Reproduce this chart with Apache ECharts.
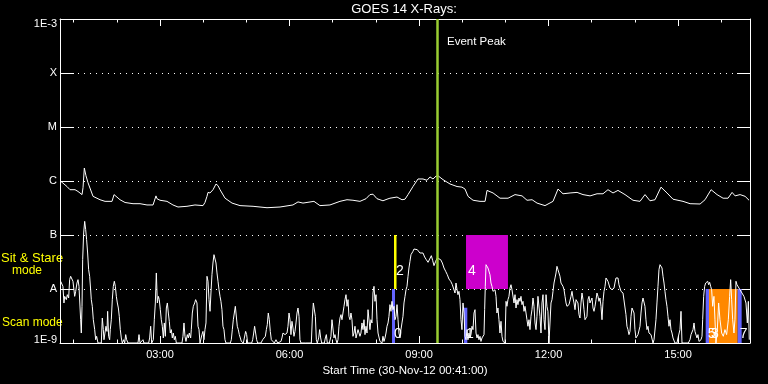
<!DOCTYPE html>
<html><head><meta charset="utf-8">
<script src="https://cdn.jsdelivr.net/npm/echarts@6/dist/echarts.min.js"></script>
<style>html,body{margin:0;padding:0;background:#000}#c{width:768px;height:384px}</style>
</head><body><div id="c"></div>
<script>
// ---------- data ----------
const chartTitle = 'GOES 14 X-Rays:';
const xAxisTitle = 'Start Time (30-Nov-12 00:41:00)';
const timeStart = 41;   // minutes after midnight (00:41)
const timeEnd = 1000;
const majorTickTimes = [180, 360, 540, 720, 900];
const minorTickTimes = [60, 120, 240, 300, 420, 480, 600, 660, 780, 840, 960];
const levelTickLabels = ['1E-9', 'A', 'B', 'C', 'M', 'X', '1E-3'];
const fluxMin = 1e-9, fluxMax = 1e-3;
const peakTime = 565;
const peakLabel = 'Event Peak';
const sitStareText = ['Sit & Stare', 'mode'];
const scanModeText = 'Scan mode';

// long channel [minutes, W/m^2]
const longChannel = [[42.4,0.98e-6],[50.7,0.79e-6],[54.9,0.69e-6],[61.9,0.69e-6],[66,0.64e-6],[71.6,0.56e-6],[73,0.75e-6],[74.8,1.74e-6],[77.1,1.25e-6],[79.9,0.93e-6],
[86.9,0.52e-6],[96.6,0.45e-6],[103.6,0.42e-6],[113.3,0.42e-6],[116.1,0.56e-6],[124.4,0.45e-6],[131.4,0.40e-6],[142.5,0.38e-6],[152.2,0.38e-6],[161.9,0.36e-6],
[170.3,0.36e-6],[173,0.38e-6],[174.4,0.53e-6],[175.8,0.47e-6],[180,0.44e-6],[189.7,0.42e-6],[198,0.36e-6],[205,0.33e-6],[217.5,0.34e-6],[228.6,0.36e-6],
[239.8,0.35e-6],[242.5,0.40e-6],[245.3,0.52e-6],[246.7,0.615e-6],[249.5,0.60e-6],[250.9,0.56e-6],[253.7,0.69e-6],[257.8,0.88e-6],[260.6,0.82e-6],[263.4,0.69e-6],
[270.4,0.48e-6],[280.1,0.39e-6],[291.2,0.35e-6],[309.3,0.34e-6],[328.7,0.32e-6],[346.8,0.33e-6],[364.8,0.36e-6],[371.8,0.41e-6],[378.7,0.39e-6],[394,0.42e-6],
[402.3,0.35e-6],[416.2,0.36e-6],[430.1,0.42e-6],[439.9,0.45e-6],[448.2,0.44e-6],[457.9,0.42e-6],[466.3,0.47e-6],[471.8,0.56e-6],[476,0.57e-6],[481.6,0.47e-6],
[485.7,0.45e-6],[489.9,0.43e-6],[495.5,0.46e-6],[499.6,0.48e-6],[509.4,0.505e-6],[516.3,0.45e-6],[520.5,0.46e-6],[524.7,0.56e-6],[531.6,0.79e-6],[538.6,1.09e-6],
[545.5,1.09e-6],[551.1,1.03e-6],[555.2,1.19e-6],[559.4,1.09e-6],[563.6,1.23e-6],[566.4,1.25e-6],[573.3,1.06e-6],[583.1,0.88e-6],[592.8,0.79e-6],[599.7,0.77e-6],
[603.9,0.71e-6],[608.1,0.52e-6],[615.1,0.44e-6],[624.8,0.42e-6],[631.8,0.42e-6],[634.5,0.67e-6],[642.9,0.60e-6],[652.6,0.48e-6],[663.7,0.48e-6],[673.4,0.56e-6],
[683.2,0.53e-6],[690.1,0.44e-6],[697.1,0.45e-6],[704,0.39e-6],[715.1,0.35e-6],[726.2,0.42e-6],[733.2,0.71e-6],[740.1,0.58e-6],[749.9,0.60e-6],[759.6,0.615e-6],
[767.9,0.56e-6],[777.7,0.53e-6],[787.4,0.58e-6],[795.7,0.58e-6],[802.6,0.69e-6],[809.6,0.60e-6],[816.5,0.67e-6],[826.3,0.56e-6],[837.4,0.44e-6],[847.1,0.42e-6],
[854.1,0.56e-6],[861,0.43e-6],[868,0.45e-6],[876.3,0.77e-6],[884.7,0.60e-6],[893,0.46e-6],[906.9,0.42e-6],[916.7,0.38e-6],[930.6,0.375e-6],[937.5,0.45e-6],
[945.9,0.69e-6],[954.2,0.56e-6],[962.6,0.48e-6],[969.5,0.48e-6],[975.1,0.615e-6],[979.3,0.53e-6],[986.2,0.56e-6],[993.2,0.52e-6],[998.7,0.44e-6]];

// short channel [minutes, W/m^2]
const shortChannel = [[41.9,13.9e-9],[43.8,12.9e-9],[45.1,11.2e-9],[46.5,5.51e-9],[47.5,7.31e-9],[49.8,6.35e-9],[51.2,7.85e-9],[53.0,6.81e-9],[54.4,14.9e-9],[55.8,17.2e-9],
[57.7,16.0e-9],[59.0,13.9e-9],[60.4,9.7e-9],[61.4,7.31e-9],[62.8,9.05e-9],[64.6,12.9e-9],[66.0,14.9e-9],[67.4,11.2e-9],[68.3,12.0e-9],[69.7,2.70e-9],
[70.6,1.53e-9],[71.6,4.78e-9],[72.5,34.9e-9],[73.9,109e-9],[75.3,179e-9],[76.7,126e-9],[78.0,82e-9],[79.4,46.4e-9],[80.8,22.8e-9],[82.2,17.2e-9],
[83.6,9.7e-9],[84.5,6.35e-9],[85.9,4.78e-9],[87.3,2.70e-9],[89.2,1.77e-9],[90.6,1.15e-9],[91.9,1.33e-9],[93.8,1e-9],[98.4,1e-9],[99.8,2.90e-9],
[101.2,1.77e-9],[102.1,1.15e-9],[103.5,1.53e-9],[104.9,2.04e-9],[106.3,1.64e-9],[107.2,3.86e-9],[108.6,1.33e-9],[110.0,1.15e-9],[110.9,1.77e-9],[112.3,2.70e-9],
[113.7,6.35e-9],[115.1,11.2e-9],[116.5,13.9e-9],[117.9,11.2e-9],[119.3,7.31e-9],[120.7,5.51e-9],[122.1,4.45e-9],[123.4,3.12e-9],[124.8,1.77e-9],[126.2,1.24e-9],
[127.6,1e-9],[129.5,1.15e-9],[130.9,1e-9],[132.3,1.43e-9],[133.6,1.15e-9],[135.5,1e-9],[149.4,1e-9],[150.8,1.43e-9],[152.2,1e-9],[156.3,1.15e-9],
[157.7,1e-9],[164.2,1e-9],[165.6,1.24e-9],[167.0,2.04e-9],[168.4,1e-9],[170.7,1.15e-9],[172.1,2.70e-9],[173.5,5.51e-9],[174.9,19.8e-9],[176.3,5.51e-9],
[177.7,7.31e-9],[179.0,6.35e-9],[180.4,4.14e-9],[181.8,2.70e-9],[183.2,2.04e-9],[184.6,1.24e-9],[186.0,2.35e-9],[187.4,1.33e-9],[188.8,4.45e-9],[190.2,5.51e-9],
[191.6,3.59e-9],[192.9,2.52e-9],[194.3,1.53e-9],[195.7,1.77e-9],[197.1,1.24e-9],[198.5,1.53e-9],[199.9,1.15e-9],[201.3,1.33e-9],[202.7,1e-9],[210.5,1e-9],
[211.9,1.33e-9],[213.3,2.35e-9],[214.7,1.33e-9],[216.1,1.07e-9],[218.0,1.43e-9],[219.4,1.24e-9],[220.7,1.53e-9],[222.6,1.24e-9],[223.5,1.77e-9],[224.9,3.59e-9],
[226.3,4.78e-9],[228.2,5.51e-9],[229.5,6.35e-9],[231.4,5.51e-9],[232.8,2.04e-9],[234.2,1.77e-9],[235.6,1e-9],[236.9,1.07e-9],[238.3,1.43e-9],[239.7,1.64e-9],
[241.1,1.15e-9],[242.5,1.77e-9],[243.9,2.35e-9],[245.3,17.2e-9],[246.7,13.9e-9],[248.1,6.35e-9],[249.5,3.86e-9],[250.8,8.43e-9],[252.2,18.4e-9],[253.6,30.3e-9],
[255.0,43.2e-9],[256.4,46.4e-9],[257.8,30.3e-9],[259.2,19.8e-9],[260.6,13.9e-9],[262.0,9.7e-9],[263.4,7.31e-9],[264.7,5.91e-9],[266.1,4.14e-9],[267.5,2.04e-9],
[268.9,1.77e-9],[270.3,1.15e-9],[271.7,1e-9],[277.7,1e-9],[279.1,1.15e-9],[280.5,1.77e-9],[281.9,2.70e-9],[283.3,2.90e-9],[284.7,4.78e-9],[286.1,5.13e-9],
[287.4,2.04e-9],[288.8,1.77e-9],[290.2,1.43e-9],[291.6,1.33e-9],[293.0,1.07e-9],[294.4,1.15e-9],[295.8,1e-9],[297.6,1.07e-9],[299.0,1.64e-9],[300.4,1.43e-9],
[301.8,1e-9],[307.4,1e-9],[308.8,1.15e-9],[310.2,1.53e-9],[311.5,2.04e-9],[312.9,2.19e-9],[314.3,1.15e-9],[315.7,1e-9],[318.0,1.07e-9],[320.3,1e-9],
[322.7,1.15e-9],[325.0,1.24e-9],[326.4,1.33e-9],[327.8,1.77e-9],[329.1,2.19e-9],[330.5,3.59e-9],[331.9,2.70e-9],[333.3,1.64e-9],[334.7,1.15e-9],[336.6,1.07e-9],
[338.9,1e-9],[341.2,1.15e-9],[343.5,1e-9],[348.1,1.07e-9],[349.5,1.24e-9],[350.9,1.53e-9],[352.3,1.64e-9],[353.7,1.43e-9],[355.1,1.33e-9],[356.5,1.53e-9],
[357.9,2.04e-9],[359.3,3.59e-9],[360.7,2.70e-9],[362.0,1.43e-9],[363.4,2.52e-9],[364.8,1.90e-9],[366.2,1.33e-9],[367.6,1.64e-9],[369.0,2.35e-9],[370.4,3.59e-9],
[371.8,4.45e-9],[373.2,3.12e-9],[374.5,1.15e-9],[375.9,1e-9],[382.0,1e-9],[383.8,1.07e-9],[385.7,1e-9],[390.3,1e-9],[391.7,2.90e-9],[393.1,5.51e-9],
[394.5,5.91e-9],[395.9,3.12e-9],[397.3,1.15e-9],[398.6,1e-9],[400.5,1.24e-9],[401.9,1.77e-9],[403.3,1.24e-9],[404.7,1e-9],[408.4,1e-9],[409.8,1.24e-9],
[411.2,1.43e-9],[412.5,1e-9],[415.3,1e-9],[417.6,1.33e-9],[419.0,2.70e-9],[420.4,2.90e-9],[421.8,1.24e-9],[423.2,1.43e-9],[424.6,1.15e-9],[426.0,1e-9],
[427.4,1.15e-9],[428.7,2.04e-9],[430.1,2.90e-9],[431.5,3.35e-9],[432.9,2.70e-9],[434.3,3.59e-9],[435.7,4.78e-9],[437.1,6.35e-9],[438.5,7.85e-9],[439.9,4.78e-9],
[441.3,6.35e-9],[442.6,3.12e-9],[444.0,2.70e-9],[445.4,3.59e-9],[446.8,2.70e-9],[448.2,1.33e-9],[449.6,1.53e-9],[451.0,2.04e-9],[452.4,1.24e-9],[453.8,1.15e-9],
[455.2,1.77e-9],[456.5,1.90e-9],[457.9,1.33e-9],[459.3,1.53e-9],[460.7,2.35e-9],[462.1,1.77e-9],[463.5,2.70e-9],[464.9,1.43e-9],[466.3,2.04e-9],[467.7,1.53e-9],
[469.1,4.14e-9],[470.4,4.45e-9],[471.8,1.77e-9],[473.2,2.70e-9],[474.6,2.35e-9],[476.0,8.43e-9],[477.4,11.2e-9],[478.8,5.91e-9],[480.2,7.85e-9],[481.6,2.70e-9],
[483.0,1.53e-9],[484.3,1.43e-9],[485.7,1.07e-9],[487.1,1e-9],[488.5,1e-9],[489.9,1.33e-9],[491.3,1.07e-9],[492.7,1.24e-9],[494.1,1.53e-9],[495.5,2.04e-9],
[496.9,2.35e-9],[498.2,3.12e-9],[499.6,5.13e-9],[501.0,3.86e-9],[502.4,5.91e-9],[503.8,4.14e-9],[505.2,4.78e-9],[506.6,2.70e-9],[508.0,3.12e-9],[509.4,5.13e-9],
[510.8,2.70e-9],[512.1,1.53e-9],[513.5,1.24e-9],[514.9,1.77e-9],[516.3,2.35e-9],[517.7,3.12e-9],[519.1,5.51e-9],[520.5,7.31e-9],[521.9,9.7e-9],[523.3,11.2e-9],
[524.7,17.2e-9],[526.0,24.5e-9],[527.4,32.5e-9],[528.8,43.2e-9],[530.2,46.4e-9],[531.6,49.9e-9],[533.0,55e-9],[535.3,55e-9],[537.6,53.5e-9],[539.9,52e-9],
[541.3,46.4e-9],[543.6,43.2e-9],[545.5,46.4e-9],[547.8,39.1e-9],[550.1,34.9e-9],[552.5,31.2e-9],[554.8,35.9e-9],[557.1,41.4e-9],[558.9,34.0e-9],[560.8,27.1e-9],
[563.1,32.5e-9],[565.4,37.5e-9],[567.7,40.3e-9],[570.1,34.9e-9],[572.4,30.3e-9],[574.7,24.5e-9],[577.0,21.3e-9],[579.3,18.4e-9],[581.6,15.3e-9],[584.0,13.9e-9],
[586.3,12.0e-9],[588.6,11.2e-9],[590.0,8.43e-9],[591.4,12.9e-9],[592.8,9.7e-9],[594.1,7.85e-9],[595.5,9.05e-9],[596.9,6.35e-9],[598.3,2.70e-9],[599.7,1.77e-9],
[601.1,5.51e-9],[602.5,3.59e-9],[603.9,1.33e-9],[605.3,1.15e-9],[606.7,1.77e-9],[608.0,1.15e-9],[609.4,1.53e-9],[610.8,1.24e-9],[612.2,1.43e-9],[613.6,2.04e-9],
[615.0,1.77e-9],[616.4,3.59e-9],[617.8,4.14e-9],[619.2,1.53e-9],[620.6,1.24e-9],[621.9,1.43e-9],[623.3,1.15e-9],[624.7,1.33e-9],[626.1,1.07e-9],[627.5,1.24e-9],
[628.9,1.15e-9],[630.3,1.43e-9],[631.2,4.14e-9],[632.1,11.2e-9],[633.1,28.2e-9],[634.4,30.3e-9],[635.8,24.5e-9],[637.2,22.8e-9],[638.6,18.4e-9],[640.0,12.9e-9],
[641.4,11.2e-9],[642.8,9.05e-9],[644.2,8.43e-9],[645.6,9.7e-9],[647.0,7.31e-9],[648.3,3.59e-9],[649.7,4.45e-9],[651.1,2.70e-9],[652.5,1.53e-9],[653.9,2.52e-9],
[655.3,1.33e-9],[656.7,1.07e-9],[658.1,1.15e-9],[659.5,1e-9],[660.9,5.91e-9],[662.2,4.78e-9],[663.6,6.35e-9],[665.0,7.31e-9],[666.4,10.4e-9],[667.8,12.0e-9],
[669.2,9.7e-9],[670.6,9.05e-9],[672.0,5.51e-9],[673.4,7.85e-9],[674.8,4.45e-9],[676.1,6.35e-9],[677.5,5.13e-9],[678.9,6.81e-9],[680.3,5.91e-9],[681.7,7.31e-9],
[683.1,5.13e-9],[684.5,5.91e-9],[685.9,3.86e-9],[687.3,4.78e-9],[688.7,3.59e-9],[690.0,2.70e-9],[691.4,2.04e-9],[692.8,2.70e-9],[694.2,1.77e-9],[695.6,3.12e-9],
[697.0,4.14e-9],[698.4,6.81e-9],[699.8,4.78e-9],[701.2,2.35e-9],[702.6,1.77e-9],[703.9,3.12e-9],[705.3,7.31e-9],[706.7,7.85e-9],[708.1,3.12e-9],[709.5,1.53e-9],
[710.9,5.51e-9],[712.3,7.85e-9],[713.7,2.70e-9],[715.1,1.77e-9],[716.5,7.85e-9],[717.8,4.78e-9],[719.2,3.86e-9],[720.6,1e-9],[722.0,1e-9],[723.4,5.51e-9],
[724.8,6.35e-9],[726.2,9.05e-9],[727.6,12.9e-9],[729.0,16.0e-9],[730.4,19.8e-9],[731.7,26.3e-9],[733.1,22.8e-9],[734.5,19.8e-9],[735.9,17.2e-9],[737.3,12.9e-9],
[738.7,12.0e-9],[740.1,11.2e-9],[741.5,9.7e-9],[742.9,7.31e-9],[744.3,5.51e-9],[745.6,4.78e-9],[747.0,4.45e-9],[748.4,5.13e-9],[749.8,4.78e-9],[751.2,7.31e-9],
[752.6,9.05e-9],[754.0,6.81e-9],[755.4,5.51e-9],[756.8,4.14e-9],[758.2,6.35e-9],[759.5,6.81e-9],[760.9,5.51e-9],[762.3,3.35e-9],[763.7,2.90e-9],[765.1,5.51e-9],
[766.5,8.43e-9],[767.9,6.35e-9],[769.3,4.14e-9],[770.7,2.70e-9],[772.1,2.52e-9],[773.4,3.12e-9],[774.8,6.35e-9],[776.2,7.31e-9],[777.6,5.51e-9],[779.0,5.13e-9],
[780.4,6.81e-9],[781.8,4.45e-9],[783.2,3.86e-9],[784.6,4.78e-9],[786.0,6.35e-9],[787.3,8.43e-9],[788.7,7.31e-9],[790.1,5.91e-9],[791.5,6.81e-9],[792.9,4.78e-9],
[794.3,2.70e-9],[795.7,5.91e-9],[797.1,9.05e-9],[798.5,11.2e-9],[799.9,16.0e-9],[801.2,17.2e-9],[802.6,13.9e-9],[804.0,12.9e-9],[805.4,10.4e-9],[806.8,11.2e-9],
[808.2,9.7e-9],[809.6,9.05e-9],[811.0,10.4e-9],[812.3,12.9e-9],[813.7,16.0e-9],[815.1,17.2e-9],[816.5,16.0e-9],[817.9,12.0e-9],[819.3,11.2e-9],[820.7,9.05e-9],
[822.1,9.7e-9],[823.5,8.43e-9],[824.9,9.05e-9],[826.2,7.85e-9],[827.6,3.35e-9],[829.0,2.04e-9],[830.4,1.77e-9],[831.8,1.43e-9],[833.2,1.64e-9],[834.6,3.12e-9],
[836.0,4.45e-9],[837.4,4.14e-9],[838.8,3.59e-9],[840.1,1.77e-9],[841.5,1.24e-9],[842.9,1.15e-9],[844.3,1.43e-9],[845.7,1.33e-9],[847.1,2.04e-9],[848.5,3.59e-9],
[849.9,5.51e-9],[851.3,6.81e-9],[852.7,7.31e-9],[854.0,4.78e-9],[855.4,2.70e-9],[856.8,1.77e-9],[858.2,2.04e-9],[859.6,1.53e-9],[861.0,1.64e-9],[862.4,1.43e-9],
[863.8,1.33e-9],[865.2,1e-9],[866.6,1.15e-9],[867.9,1.07e-9],[869.3,2.70e-9],[870.7,5.51e-9],[872.1,11.2e-9],[873.5,22.8e-9],[874.9,28.2e-9],[876.3,30.3e-9],
[877.7,24.5e-9],[879.1,17.2e-9],[880.5,12.9e-9],[881.8,9.05e-9],[883.2,6.35e-9],[884.6,4.78e-9],[886.0,3.12e-9],[887.4,2.04e-9],[888.8,2.70e-9],[890.2,1.77e-9],
[891.6,1.53e-9],[893.0,1.24e-9],[894.4,1.15e-9],[895.7,1e-9],[897.1,1.07e-9],[898.5,1e-9],[899.9,1.24e-9],[901.3,1.15e-9],[902.7,1.77e-9],[904.1,3.86e-9],
[905.5,1e-9],[909.6,1e-9],[912.0,1.07e-9],[914.3,1e-9],[916.6,1.15e-9],[918.0,1.43e-9],[919.4,1.53e-9],[920.8,1.77e-9],[922.2,2.35e-9],[923.5,1.64e-9],
[924.9,1.53e-9],[926.3,1.24e-9],[927.7,1.43e-9],[929.1,1.07e-9],[930.5,1e-9],[931.9,1.15e-9],[933.3,1.33e-9],[934.2,2.70e-9],[935.6,7.31e-9],[937.0,11.2e-9],
[938.4,12.9e-9],[939.8,12.0e-9],[941.2,13.9e-9],[942.5,12.0e-9],[943.9,13.3e-9],[945.3,11.2e-9],[946.7,9.7e-9],[948.1,4.78e-9],[949.9,7.31e-9],[951.3,2.70e-9],
[952.7,1e-9],[954.6,1.77e-9],[956.4,5.51e-9],[958.3,2.70e-9],[960.6,1.53e-9],[962.9,1.33e-9],[965.2,1.77e-9],[967.5,1.43e-9],[969.9,2.70e-9],[971.7,7.31e-9],
[973.1,14.9e-9],[974.5,6.35e-9],[975.9,2.70e-9],[977.7,1.53e-9],[979.1,2.70e-9],[980.5,13.9e-9],[981.9,12.0e-9],[983.8,11.2e-9],[986.1,9.7e-9],[988.4,9.0e-9],
[991.6,7.3e-9],[994.4,5.5e-9],[996.3,2.35e-9],[997.7,5.9e-9],[999.0,1.15e-9]];

// observation blocks
const blockLabels = ['0', '2', '1', '4', '5', '3', '7'];
const blockStart  = [502.4, 505.2, 602.5, 605.3, 938.4, 943.0, 982.9];
const blockEnd    = [506.6, 508.7, 607.1, 663.6, 943.0, 982.9, 988.4];
const blockLow    = [1e-9, 1e-8, 1e-9, 1e-8, 1e-9, 1e-9, 1e-9];
const blockHigh   = [1e-8, 1e-7, 4.5e-9, 1e-7, 1e-8, 1e-8, 1e-8];
const blockKind   = ['scan', 'stare', 'scan', 'stare2', 'scan', 'scan2', 'scan'];

// ---------- styles ----------
const FONT = 'Liberation Sans';
const kindStyle = {
  scan:   { color: '#6464ff', dy: 0 },
  scan2:  { color: '#ff8800', dy: 0 },
  stare:  { color: '#ffff00', dy: -9 },
  stare2: { color: '#cc00cc', dy: -9 }
};
const peakLabelFlux = 3.7e-4;

const pad = n => String(n).padStart(2, '0');
const fmtTime = v => pad(Math.floor(v / 60)) + ':' + pad(Math.round(v % 60));
const fmtLevel = v => {
  const e = Math.round(Math.log10(v));
  const s = levelTickLabels[e + 9] || '';
  if (e === -3) return '{top|' + s + '}';
  if (e === -9) return '{bot|' + s + '}';
  return s;
};

const areaData = blockLabels.map((lab, i) => {
  const st = kindStyle[blockKind[i]];
  return [
    { xAxis: blockStart[i], yAxis: blockHigh[i], itemStyle: { color: st.color, opacity: 1 },
      label: { show: true, formatter: lab, position: 'insideBottomLeft', distance: 2, offset: [0, st.dy],
               color: '#fff', fontSize: 14, fontFamily: FONT } },
    { xAxis: blockEnd[i], yAxis: blockLow[i] }
  ];
});

const chart = echarts.init(document.getElementById('c'));
const axisWhite = { lineStyle: { color: '#fff', width: 1 } };
const labelTxt = { color: '#fff', fontSize: 11, fontFamily: FONT };

chart.setOption({
  animation: false,
  backgroundColor: '#000',
  grid: [
    { left: 60, right: 18, top: 19, bottom: 41, containLabel: false },
    { left: 60, right: 18, top: 19, bottom: 41, containLabel: false }
  ],
  xAxis: [
    { gridIndex: 0, type: 'value', position: 'bottom', min: timeStart, max: timeEnd,
      axisLine: axisWhite, splitLine: { show: false },
      axisTick: { inside: true, length: 7, customValues: majorTickTimes, lineStyle: { color: '#fff' } },
      axisLabel: Object.assign({ customValues: majorTickTimes, formatter: fmtTime, margin: 6 }, labelTxt),
      name: xAxisTitle, nameLocation: 'middle', nameGap: 19,
      nameTextStyle: { color: '#fff', fontSize: 11.5, fontFamily: FONT } },
    { gridIndex: 0, type: 'value', position: 'top', min: timeStart, max: timeEnd,
      axisLine: axisWhite, splitLine: { show: false },
      axisTick: { inside: true, length: 7, customValues: majorTickTimes, lineStyle: { color: '#fff' } },
      axisLabel: { show: false } },
    { gridIndex: 1, type: 'value', position: 'bottom', min: timeStart, max: timeEnd,
      axisLine: { show: false }, splitLine: { show: false },
      axisTick: { inside: true, length: 3.5, customValues: minorTickTimes, lineStyle: { color: '#fff' } },
      axisLabel: { show: false } },
    { gridIndex: 1, type: 'value', position: 'top', min: timeStart, max: timeEnd,
      axisLine: { show: false }, splitLine: { show: false },
      axisTick: { inside: true, length: 3.5, customValues: minorTickTimes, lineStyle: { color: '#fff' } },
      axisLabel: { show: false } }
  ],
  yAxis: [
    { gridIndex: 0, type: 'log', logBase: 10, min: fluxMin, max: fluxMax, position: 'left',
      axisLine: axisWhite,
      axisTick: { inside: true, length: 14, lineStyle: { color: '#fff' } },
      axisLabel: Object.assign({ formatter: fmtLevel, margin: 3,
        rich: { top: Object.assign({ padding: [9, 0, 0, 0] }, labelTxt),
                bot: Object.assign({ padding: [0, 0, 6, 0] }, labelTxt) } }, labelTxt),
      splitLine: { show: true, lineStyle: { color: '#fff', width: 1, type: [1, 5] } } },
    { gridIndex: 0, type: 'log', logBase: 10, min: fluxMin, max: fluxMax, position: 'right',
      axisLine: axisWhite,
      axisTick: { inside: true, length: 13, lineStyle: { color: '#fff' } },
      axisLabel: { show: false }, splitLine: { show: false } },
    { gridIndex: 1, type: 'value', show: false, min: 0, max: 1 }
  ],
  graphic: [
    { type: 'text', x: 404, y: 3, style: { text: chartTitle, fill: '#fff', font: '13px "' + FONT + '"', textAlign: 'center' } },
    { type: 'text', left: 1, top: 252, style: { text: sitStareText[0], fill: '#ffff00', font: '13px "' + FONT + '"' } },
    { type: 'text', left: 12, top: 265, style: { text: sitStareText[1], fill: '#ffff00', font: '12px "' + FONT + '"' } },
    { type: 'text', left: 2, top: 317, style: { text: scanModeText, fill: '#ffff00', font: '12px "' + FONT + '"' } }
  ],
  series: [
    { name: 'short', type: 'line', xAxisIndex: 0, yAxisIndex: 0, data: shortChannel,
      showSymbol: false, z: 3, lineStyle: { color: '#fff', width: 1 }, itemStyle: { color: '#fff' },
      markArea: { silent: true, data: areaData } },
    { name: 'long', type: 'line', xAxisIndex: 0, yAxisIndex: 0, data: longChannel,
      showSymbol: false, z: 3, lineStyle: { color: '#fff', width: 1 }, itemStyle: { color: '#fff' },
      markLine: { silent: true, symbol: ['none', 'none'], label: { show: false },
                  lineStyle: { color: '#9acd32', width: 2.5, type: 'solid' },
                  data: [{ xAxis: peakTime }] },
      markPoint: { silent: true, symbol: 'circle', symbolSize: 0,
                   label: { show: true, position: 'right', distance: 10, formatter: peakLabel,
                            color: '#fff', fontSize: 11.5, fontFamily: FONT },
                   data: [{ coord: [peakTime, peakLabelFlux] }] } }
  ]
});
</script>
</body></html>
